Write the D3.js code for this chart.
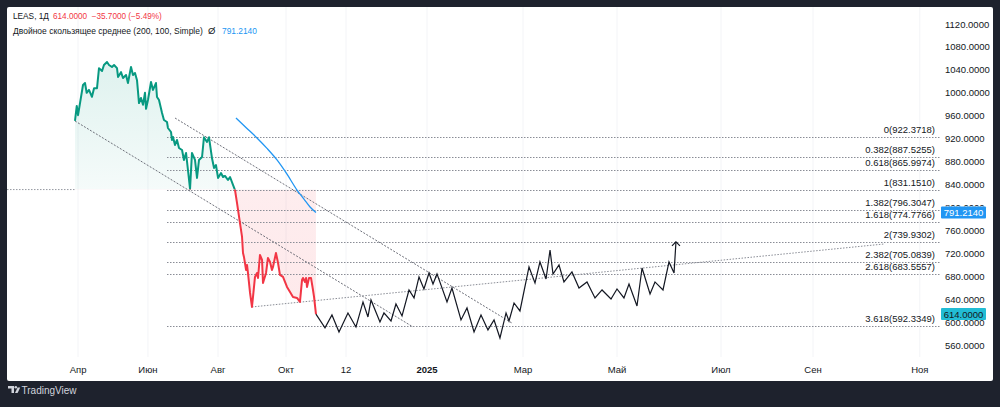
<!DOCTYPE html>
<html><head><meta charset="utf-8">
<script src="https://cdn.jsdelivr.net/npm/d3@7"></script>
<style>html,body{margin:0;padding:0;background:#1e222d;}svg{display:block}</style>
</head><body><svg id="c" width="1000" height="407"></svg>
<script>
// ---------- data ----------
const symbol = "LEAS, 1Д";
const lastPrice = 614.0;
const change = -35.7;
const changePct = -5.49;
const maName = "Двойное скользящее среднее (200, 100, Simple)";
const maLast = 791.2140;
const baseline = 831.1510;

// price series (bar index, close)
const priceBars = [0,1.1,1.9,5,6.25,7.3,8.75,10.6,11.9,13.75,15,16.9,18.1,20,21.25,23.1,24.4,26.25,26.9,28.75,30,31.9,33.1,35,36.25,37.5,38.75,40,41.25,42.5,43.75,44.4,45.6,47.5,48.75,50.6,51.25,52.5,54.4,55.6,57.5,58.1,60,60.6,61.25,62.5,63.75,65,66.9,68.1,69.4,70.6,71.9,73.1,75,76.25,77.5,79.4,80.6,82.5,83.75,85.6,86.9,88.1,89.4,91.25,92.5,93.75,95.6,96.9,98.75,100,101.25,103.1,104.4,105,105.6,106.9,107.5,108.1,109.4,110.6,111.25,112.5,113.75,114.4,115.6,116.9,117.5,119.4,120.6,121.9,123.1,123.75,125.6,126.9,128.1,130,132.5,134.4,136.25,138.75,140.6,141.9,142.5,143.75,144.4,145,146.25,147.5,148.75,149.4,150.6];
const priceValues = [950.8,977,961,1013.6,1017,1000,1005,993,1008,1008,1043,1038,1048.5,1053.7,1048.5,1045,1048.5,1043,1027.6,1036,1025.8,1031,1017,1045,1031,1034.5,1022,982,991,979,1000,972,987.4,1018.8,1005,1017,992.7,987.4,964.8,952.5,949,938.6,931.6,917.7,923,909,917.7,903.7,900.2,882.8,895,865.3,832.2,895,882.8,851.4,882.8,888,922.4,914.2,922.4,886.3,868.8,874,851.4,860,853.1,854.9,847.9,853.1,839.2,830.4,807.8,772.9,748.5,720.6,713.6,690.9,699.6,685.7,650.8,626.4,643.8,678.7,685.7,677,717,708.4,668.2,685.7,711.8,704.9,690.9,696.1,720.6,703.1,682.2,678.7,661.3,652.5,643.8,642.1,635.1,673.5,677,670,677,661.3,677,677,656,643.8,614];

// double moving average
const maBars = [100.6,107,113.75,120,126.25,132.5,138.75,143,146.9,150.6];
const maValues = [956,939,921.2,903,882.8,858,830.4,815,800.8,791.214];

// projected path drawing (bar index, price)
const pathBars = [150.6,156.25,160.6,165,170.6,175.6,180,183.1,185,190.6,193.1,197.5,200.6,204.4,208.75,211.9,215,218.1,221.25,223.75,226.25,232.5,235.6,241.25,245,249.4,253.75,258.1,261.9,265.6,269.4,271.25,274.4,278.1,283.75,287.5,290.6,294.4,296.9,298.75,302.5,305.6,310.6,315,320,325,329.4,335,338.75,343.1,346.25,351.25,354.4,359.4,362.5,367.5,371.25,374.4,375.6];
const pathValues = [614,590,612.4,582.8,615.9,591.5,635.1,608.9,638.6,600.2,615.9,601.9,631.6,610.7,656,642.1,678.7,657.8,685.7,666.5,684,635.1,659.5,603.7,624.6,582.8,612.4,586.3,603.7,572.3,615.9,601.9,633.3,619.4,696.1,668.2,704.9,675.2,725.8,683.9,699.6,670,687.4,659.5,670,642.1,656,640.3,657.8,642.1,666.5,628.1,694.4,649,670,656,704.9,685.7,739.9];

// Fibonacci extension levels
const fibRatios = ["0","0.382","0.618","1","1.382","1.618","2","2.382","2.618","3.618"];
const fibValues = [922.3718,887.5255,865.9974,831.1510,796.3047,774.7766,739.9302,705.0839,683.5557,592.3349];
const fibStartBar = 57.5;

// trend lines [bar, price]
const channelLower = [[0,950.8],[211.25,591.5]];
const channelUpper = [[62.5,956],[273,598.5]];
const risingLine = [[110.6,626.4],[506,736.3]];

// axes
const yTicks = [560,600,640,680,720,760,800,840,880,920,960,1000,1040,1080,1120];
const xTickBars = [1.9,45.6,89.4,131.9,169.4,220,280,338.75,403.75,461.25,528];
const xTickLabels = ["Апр","Июн","Авг","Окт","12","2025","Мар","Май","Июл","Сен","Ноя"];

// ---------- layout ----------
const W = 1000, H = 407;
const panel = {x:7, y:7, w:986, h:374};
const plotRight = 941;
const FONT = "'Liberation Sans', Arial, sans-serif";
const GREEN = "#089981", RED = "#F23645", BLUE = "#2196F3", INK = "#131722";

const svg = d3.select("#c");
const x = d3.scaleLinear().domain([0, 541.25]).range([75, plotRight]);
const y = d3.scaleLinear().domain([560, 1120]).range([345, 24]);

svg.append("rect").attr("width", W).attr("height", H).attr("fill", "#1e222d");
svg.append("rect").attr("x", panel.x).attr("y", panel.y).attr("width", panel.w).attr("height", panel.h)
  .attr("fill", "#ffffff").attr("rx", 2);

const defs = svg.append("defs");
defs.append("clipPath").attr("id", "plot").append("rect")
  .attr("x", panel.x).attr("y", panel.y).attr("width", plotRight - panel.x).attr("height", 355 - panel.y);
defs.append("clipPath").attr("id", "above").append("rect")
  .attr("x", panel.x).attr("y", panel.y).attr("width", plotRight - panel.x).attr("height", y(baseline) - panel.y);
defs.append("clipPath").attr("id", "below").append("rect")
  .attr("x", panel.x).attr("y", y(baseline)).attr("width", plotRight - panel.x).attr("height", 360 - y(baseline));
// axis tick labels hidden under the price tags
const axisClip = defs.append("clipPath").attr("id", "axisClip");
axisClip.append("path").attr("clip-rule", "evenodd")
  .attr("d", `M935,0H1000V${H}H935Z M941,${y(maLast) - 6}h45v12h-45Z M941,${y(lastPrice) - 6}h45v12h-45Z`);

const gG = defs.append("linearGradient").attr("id", "gGreen").attr("gradientUnits", "userSpaceOnUse")
  .attr("x1", 0).attr("x2", 0).attr("y1", y(d3.max(priceValues))).attr("y2", y(baseline));
gG.append("stop").attr("offset", 0).attr("stop-color", GREEN).attr("stop-opacity", 0.13);
gG.append("stop").attr("offset", 1).attr("stop-color", GREEN).attr("stop-opacity", 0.04);
const gR = defs.append("linearGradient").attr("id", "gRed").attr("gradientUnits", "userSpaceOnUse")
  .attr("x1", 0).attr("x2", 0).attr("y1", y(baseline)).attr("y2", y(d3.min(priceValues)));
gR.append("stop").attr("offset", 0).attr("stop-color", RED).attr("stop-opacity", 0.09);
gR.append("stop").attr("offset", 1).attr("stop-color", RED).attr("stop-opacity", 0.11);

// vertical grid
svg.append("g").selectAll("line").data(xTickBars).join("line")
  .attr("x1", d => x(d)).attr("x2", d => x(d)).attr("y1", panel.y).attr("y2", 357)
  .attr("stroke", "#f3f4f7").attr("stroke-width", 1);

const plot = svg.append("g").attr("clip-path", "url(#plot)");
const price = priceBars.map((b, i) => [b, priceValues[i]]);

// baseline dotted line left of series
plot.append("line").attr("x1", panel.x).attr("x2", x(0)).attr("y1", y(baseline)).attr("y2", y(baseline))
  .attr("stroke", "#9598a1").attr("stroke-dasharray", "1.5,1.5");

// fills
const area = d3.area().x(d => x(d[0])).y0(y(baseline)).y1(d => y(d[1]));
plot.append("path").datum(price).attr("d", area).attr("fill", "url(#gGreen)").attr("clip-path", "url(#above)");
plot.append("path").datum(price).attr("d", area).attr("fill", "url(#gRed)").attr("clip-path", "url(#below)");

// fib levels
const fibG = plot.append("g");
fibValues.forEach((v, i) => {
  fibG.append("line").attr("x1", x(fibStartBar)).attr("x2", plotRight).attr("y1", Math.round(y(v)) + 0.5).attr("y2", Math.round(y(v)) + 0.5)
    .attr("stroke", "#8a8d96").attr("stroke-width", 1).attr("stroke-dasharray", "1.5,1.5");
  fibG.append("text").attr("x", 935).attr("y", y(v) - 4).attr("text-anchor", "end")
    .attr("font-family", FONT).attr("font-size", 9.5).attr("fill", INK)
    .text(`${fibRatios[i]}(${v.toFixed(4)})`);
});

// trend lines
const tl = d3.line().x(d => x(d[0])).y(d => y(d[1]));
plot.append("path").datum(channelLower).attr("d", tl).attr("stroke", "#5d606b").attr("stroke-width", 0.9).attr("stroke-dasharray", "2,1.5").attr("fill", "none");
plot.append("path").datum(channelUpper).attr("d", tl).attr("stroke", "#5d606b").attr("stroke-width", 0.9).attr("stroke-dasharray", "2,1.5").attr("fill", "none");
plot.append("path").datum(risingLine).attr("d", tl).attr("stroke", "#8a8d96").attr("stroke-width", 1).attr("stroke-dasharray", "1.5,1.5").attr("fill", "none");

// price line split by baseline
const line = d3.line().x(d => x(d[0])).y(d => y(d[1]));
plot.append("path").datum(price).attr("d", line).attr("fill", "none").attr("stroke", GREEN).attr("stroke-width", 2).attr("stroke-linejoin", "round").attr("clip-path", "url(#above)");
plot.append("path").datum(price).attr("d", line).attr("fill", "none").attr("stroke", RED).attr("stroke-width", 2).attr("stroke-linejoin", "round").attr("clip-path", "url(#below)");

// moving average
const ma = maBars.map((b, i) => [b, maValues[i]]);
plot.append("path").datum(ma).attr("d", d3.line().x(d => x(d[0])).y(d => y(d[1])).curve(d3.curveMonotoneX))
  .attr("fill", "none").attr("stroke", BLUE).attr("stroke-width", 1.3);

// path drawing with arrow
const pth = pathBars.map((b, i) => [b, pathValues[i]]);
plot.append("path").datum(pth).attr("d", line).attr("fill", "none").attr("stroke", INK).attr("stroke-width", 1.2).attr("stroke-linejoin", "miter");
const tip = pth[pth.length - 1];
const tx = x(tip[0]), ty = y(tip[1]);
plot.append("path").attr("d", `M${tx - 4},${ty + 4}L${tx},${ty}L${tx + 4},${ty + 4}`)
  .attr("fill", "none").attr("stroke", INK).attr("stroke-width", 1.2);

// y axis
const yAx = svg.append("g");
yAx.append("g").attr("clip-path", "url(#axisClip)").selectAll("text").data(yTicks).join("text")
  .attr("x", 945).attr("y", d => y(d) + 3.5)
  .attr("font-family", FONT).attr("font-size", 9.5).attr("fill", INK)
  .text(d => d.toFixed(4));

// price labels
function tag(v, bg, fg) {
  const cy = y(v);
  yAx.append("rect").attr("x", 941).attr("y", cy - 6).attr("width", 45).attr("height", 12).attr("fill", bg).attr("rx", 1);
  yAx.append("text").attr("x", 963.5).attr("y", cy + 3.5).attr("text-anchor", "middle")
    .attr("font-family", FONT).attr("font-size", 9.5).attr("fill", fg).text(v.toFixed(4));
}
tag(maLast, BLUE, "#ffffff");
tag(lastPrice, "#22bcd4", INK);

// x axis
svg.append("g").selectAll("text").data(xTickBars).join("text")
  .attr("x", d => x(d)).attr("y", 373).attr("text-anchor", "middle")
  .attr("font-family", FONT).attr("font-size", 9.5).attr("fill", INK)
  .attr("font-weight", (d, i) => xTickLabels[i] === "2025" ? "bold" : "normal")
  .text((d, i) => xTickLabels[i]);

// legend
function fitText(sel, target) {
  const w = sel.node().getComputedTextLength();
  const fs = +sel.attr("font-size");
  sel.attr("font-size", fs * target / w);
}
const t1 = svg.append("text").attr("x", 13).attr("y", 19).attr("font-family", FONT).attr("font-size", 10)
  .attr("fill", INK).text(symbol);
fitText(t1, 36);
const t2 = svg.append("text").attr("x", 53).attr("y", 19).attr("font-family", FONT).attr("font-size", 10)
  .attr("fill", RED).attr("xml:space", "preserve")
  .text(lastPrice.toFixed(4) + "  " + (change < 0 ? "−" : "+") + Math.abs(change).toFixed(4) + " (" + (changePct < 0 ? "−" : "+") + Math.abs(changePct).toFixed(2) + "%)");
fitText(t2, 109);
const t3 = svg.append("text").attr("x", 13).attr("y", 34).attr("font-family", FONT).attr("font-size", 9)
  .attr("fill", INK).text(maName);
fitText(t3, 190);
svg.append("text").attr("x", 208).attr("y", 34).attr("font-family", FONT).attr("font-size", 9.5)
  .attr("fill", INK).text("Ø");
const t4 = svg.append("text").attr("x", 222).attr("y", 34).attr("font-family", FONT).attr("font-size", 9.5)
  .attr("fill", BLUE).text(maLast.toFixed(4));
fitText(t4, 35);

// TradingView logo
const logo = svg.append("g").attr("fill", "#d1d4dc");
logo.append("path").attr("d", "M8,386h6v7h-2.5v-4.5H8z");
logo.append("circle").attr("cx", 15.8).attr("cy", 387.3).attr("r", 1.3);
logo.append("path").attr("d", "M15,393l2.6,-5.5h2.6l-2.6,5.5z");
svg.append("text").attr("x", 21.5).attr("y", 393.5).attr("font-family", FONT).attr("font-size", 10)
  .attr("fill", "#d1d4dc").text("TradingView");
</script></body></html>
